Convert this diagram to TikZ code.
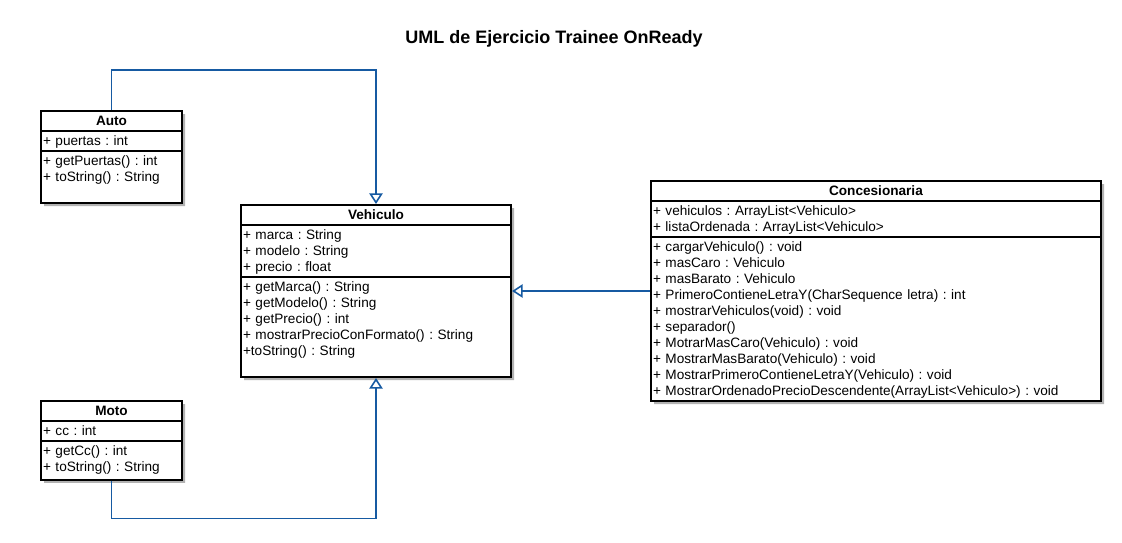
\documentclass[tikz,border=0pt]{standalone}
\usepackage{fontspec}
\setmainfont{Liberation Sans}
\frenchspacing
\usetikzlibrary{arrows.meta,positioning,shapes.multipart,shadows}
\definecolor{umlblue}{RGB}{22,90,162}
\tikzset{
  umlbox/.style={
    draw, line width=1.5pt, fill=white, rectangle split, rectangle split parts=3,
    rectangle split every empty part={},
    inner xsep=1.5pt, inner ysep=0.75pt,
    font=\fontsize{10.2}{12}\selectfont, align=left,
    anchor=north west,
    drop shadow={shadow xshift=2.4pt, shadow yshift=-2.4pt, fill=black!30, opacity=1}
  },
  inherits/.style={-{Triangle[open, length=8pt, width=10pt, fill=white]}, umlblue, line width=1.2pt}
}
\newcommand{\umlln}{\rule[-2.4pt]{0pt}{12pt}}
\newcommand{\umlclass}[6][141]{%
  \node[umlbox, text width=#1*0.75pt-3pt] (#2) at (#5,#6) {%
    \hfill\textbf{#2}\umlln\hfill\null
    \nodepart{second} #3
    \nodepart{third} #4
  };%
}

\begin{document}
\begin{tikzpicture}[x=0.75pt, y=-0.75pt]
    \useasboundingbox (0,0) rectangle (1122,543);
    \node[font=\fontsize{13.5}{16}\selectfont\bfseries] (title) at (554,39) {UML de Ejercicio Trainee OnReady};
    \umlclass{Auto}
             {\umlln+ puertas : int}
             {\umlln+ getPuertas() : int\\ \umlln+ toString() : String\\ \umlln~}
             {40}{110}
    \umlclass[270]{Vehiculo}
             {\umlln+ marca : String\\ \umlln+ modelo : String\\ \umlln+ precio : float}
             {\umlln+ getMarca() : String\\ \umlln+ getModelo() : String\\ \umlln+ getPrecio() : int\\
              \umlln+ mostrarPrecioConFormato() : String\\ \umlln+toString() : String\\ \umlln~}
             {240}{204}
    \umlclass{Moto}
             {\umlln+ cc : int}
             {\umlln+ getCc() : int\\ \umlln+ toString() : String\\[-10pt] \umlln~}
             {40}{400}
    \umlclass[450]{Concesionaria}
             {\umlln+ vehiculos : ArrayList<Vehiculo>\\ \umlln+ listaOrdenada : ArrayList<Vehiculo>}
             {\umlln+ cargarVehiculo() : void\\ \umlln+ masCaro : Vehiculo\\ \umlln+ masBarato : Vehiculo\\
              \umlln+ PrimeroContieneLetraY(CharSequence letra) : int\\ \umlln+ mostrarVehiculos(void) : void\\
              \umlln+ separador()\\ \umlln+ MotrarMasCaro(Vehiculo) : void\\ \umlln+ MostrarMasBarato(Vehiculo) : void\\
              \umlln+ MostrarPrimeroContieneLetraY(Vehiculo) : void\\
              \umlln+ MostrarOrdenadoPrecioDescendente(ArrayList<Vehiculo>) : void}
             {650}{180}
    \draw[inherits] (Auto.north) -- ++(0,-40) -| (Vehiculo.north);
    \draw[inherits] (Moto.south) -- ++(0,38) -| (Vehiculo.south);
    \draw[inherits] (Concesionaria.west) -- (Concesionaria.west -| Vehiculo.east);
\end{tikzpicture}
\end{document}
